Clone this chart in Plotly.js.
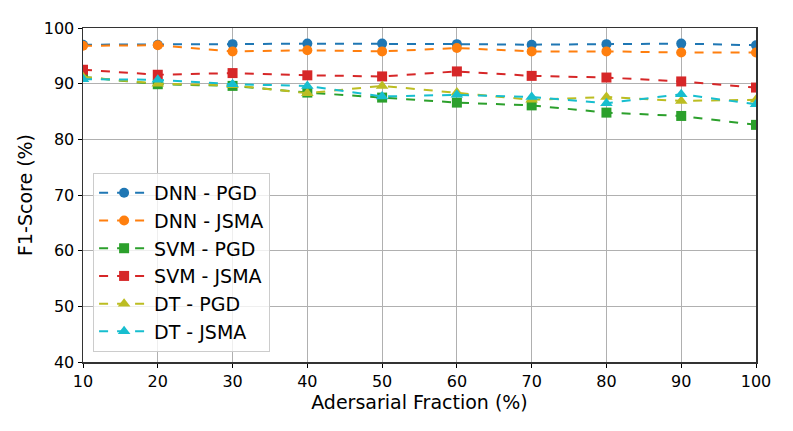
<!DOCTYPE html>
<html><head><meta charset="utf-8">
<script src="https://cdn.plot.ly/plotly-3.0.1.min.js"></script>
<style>html,body{margin:0;padding:0;background:#fff}#chart{width:793px;height:431px}</style>
</head><body><div id="chart"></div>
<script>
const fractions = [10,20,30,40,50,60,70,80,90,100];
const dnnPgd  = [97.0,97.0,97.1,97.2,97.2,97.1,97.0,97.1,97.2,96.9];
const dnnJsma = [96.8,96.9,95.8,96.0,95.8,96.4,95.8,95.8,95.6,95.6];
const svmPgd  = [91.2,89.9,89.6,88.4,87.5,86.6,86.1,84.8,84.2,82.6];
const svmJsma = [92.5,91.6,91.9,91.5,91.3,92.2,91.4,91.1,90.4,89.3];
const dtPgd   = [91.2,90.0,89.7,88.3,89.6,88.4,87.1,87.6,86.9,87.1];
const dtJsma  = [90.8,90.7,89.9,89.6,87.7,88.0,87.6,86.5,88.1,86.3];

const seriesNames = ['DNN - PGD','DNN - JSMA','SVM - PGD','SVM - JSMA','DT - PGD','DT - JSMA'];
const seriesData = [dnnPgd,dnnJsma,svmPgd,svmJsma,dtPgd,dtJsma];
const colors = ['#1f77b4','#ff7f0e','#2ca02c','#d62728','#bcbd22','#17becf'];
const symbols = ['circle','circle','square','square','triangle-up','triangle-up'];

const traces = seriesData.map((d,i)=>({
  x: fractions, y: d, name: seriesNames[i], type:'scatter', mode:'lines+markers',
  line:{color:colors[i], dash:'dash', width:2},
  marker:{color:colors[i], symbol:symbols[i], size: symbols[i]==='triangle-up'?11:10}
}));

const layout = {
  width:793, height:431,
  margin:{l:83, r:37, t:28, b:69},
  paper_bgcolor:'#fff', plot_bgcolor:'#fff',
  font:{family:'DejaVu Sans', color:'#000'},
  showlegend:true,
  xaxis:{range:[10,100], tickvals:fractions, ticks:'outside', ticklen:4, tickcolor:'#000',
    showgrid:true, gridcolor:'#b0b0b0', gridwidth:1, zeroline:false,
    showline:true, linecolor:'#333', linewidth:1.5, mirror:true,
    tickfont:{size:16, family:'DejaVu Sans'},
    title:{text:'Adersarial Fraction (%)', font:{size:19, family:'DejaVu Sans'}, standoff:4}},
  yaxis:{range:[40,100], tickvals:[40,50,60,70,80,90,100], ticks:'outside', ticklen:4, tickcolor:'#000',
    showgrid:true, gridcolor:'#b0b0b0', gridwidth:1, zeroline:false,
    showline:true, linecolor:'#333', linewidth:1.5, mirror:true,
    tickfont:{size:16, family:'DejaVu Sans'},
    title:{text:'F1-Score (%)', font:{size:19, family:'DejaVu Sans'}, standoff:6}},
  legend:{x:0.015, y:0.03, xanchor:'left', yanchor:'bottom',
    bgcolor:'rgba(255,255,255,0.8)', bordercolor:'#ccc', borderwidth:1,
    font:{size:19, family:'DejaVu Sans'}, tracegroupgap:0, itemwidth:50}
};
Plotly.newPlot('chart', traces, layout, {displayModeBar:false, staticPlot:true});
</script></body></html>
